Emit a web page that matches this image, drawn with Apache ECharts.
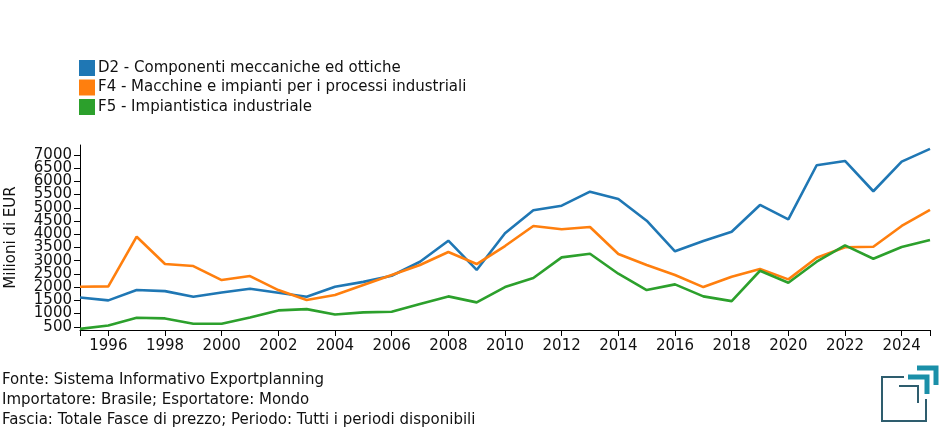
<!DOCTYPE html>
<html>
<head>
<meta charset="utf-8">
<script src="https://cdn.jsdelivr.net/npm/echarts@6/dist/echarts.min.js"></script>
<style>html,body{margin:0;padding:0;background:#fff}#c{width:950px;height:435px}</style>
</head>
<body>
<div id="c"></div>
<script>
const years = ['1995','1996','1997','1998','1999','2000','2001','2002','2003','2004','2005','2006','2007','2008','2009','2010','2011','2012','2013','2014','2015','2016','2017','2018','2019','2020','2021','2022','2023','2024','2025'];
const seriesNames = ['D2 - Componenti meccaniche ed ottiche','F4 - Macchine e impianti per i processi industriali','F5 - Impiantistica industriale'];
const d2 = [1610,1500,1890,1850,1635,1800,1940,1790,1636,2014,2200,2430,2960,3756,2650,4036,4907,5081,5611,5335,4513,3355,3745,4097,5108,4566,6610,6773,5626,6747,7228];
const f4 = [2014,2030,3907,2874,2798,2268,2420,1889,1511,1700,2079,2457,2836,3328,2874,3555,4313,4187,4275,3252,2836,2457,2003,2393,2684,2294,3112,3506,3529,4313,4918];
const f5 = [424,550,841,818,614,614,856,1121,1170,969,1045,1068,1359,1651,1424,2003,2344,3127,3264,2507,1889,2105,1651,1473,2620,2166,2961,3582,3074,3517,3782];
const yTicks = [500,1000,1500,2000,2500,3000,3500,4000,4500,5000,5500,6000,6500,7000];
const footer = ['Fonte: Sistema Informativo Exportplanning','Importatore: Brasile; Esportatore: Mondo','Fascia: Totale Fasce di prezzo; Periodo: Tutti i periodi disponibili'];
const colors = ['#1f77b4','#ff7f0e','#2ca02c'];
const yMin = 380, yMax = 7375;
const FONT = 'DejaVu Sans';

const chart = echarts.init(document.getElementById('c'), null, {renderer:'canvas'});
const lastIdx = years.length - 1;
const yEnds = [yMin].concat(yTicks, [yMax]);
chart.setOption({
  animation:false,
  color: colors,
  textStyle:{fontFamily:FONT},
  grid:{left:80, right:20, top:145, bottom:105, containLabel:false, outerBoundsMode:'none'},
  legend:{
    orient:'vertical', left:79, top:60, padding:0, itemWidth:16, itemHeight:16, itemGap:3.5,
    icon:'rect',
    textStyle:{fontFamily:FONT, fontSize:15, color:'#111', padding:[0,0,0,-2]},
    data: seriesNames
  },
  xAxis:{
    type:'category', data: years, boundaryGap:false,
    axisLine:{lineStyle:{color:'#000', width:1}},
    axisTick:{length:6, lineStyle:{color:'#000'},
      interval:function(i, v){ return (+v) % 2 === 0 || i === 0 || i === lastIdx; }},
    axisLabel:{fontFamily:FONT, fontSize:15, color:'#111', margin:9,
      interval:function(i, v){ return (+v) % 2 === 0; }},
    splitLine:{show:false}
  },
  yAxis:{
    type:'value', min:yMin, max:yMax,
    name:'Milioni di EUR', nameLocation:'middle', nameRotate:90, nameGap:61,
    nameTextStyle:{fontFamily:FONT, fontSize:15, color:'#111'},
    axisLine:{show:true, lineStyle:{color:'#000', width:1}},
    axisTick:{show:true, length:6, lineStyle:{color:'#000'}, customValues:yEnds},
    axisLabel:{fontFamily:FONT, fontSize:15, lineHeight:11, color:'#111', margin:8, customValues:yEnds,
      hideOverlap:false, showMinLabel:false, showMaxLabel:false,
      formatter:function(v){ return (v === yMin || v === yMax) ? '' : String(v); }},
    splitLine:{show:false}
  },
  series:[d2,f4,f5].map((d,i)=>({
    name: seriesNames[i], type:'line', data:d, showSymbol:false, symbol:'none',
    lineStyle:{width:2.6, color:colors[i]}, itemStyle:{color:colors[i]}
  })),
  graphic: footer.map((t,i)=>({
    type:'text', left:2, top:373 + i*19.7,
    style:{text:t, font:'15px "DejaVu Sans"', fill:'#111'}
  })).concat([
    {type:'polyline', shape:{points:[[904,377],[882,377],[882,421],[926,421],[926,399]]}, style:{stroke:'#2e5d6e', lineWidth:2, fill:null}},
    {type:'polyline', shape:{points:[[899,386],[918,386],[918,403]]}, style:{stroke:'#2e5d6e', lineWidth:2, fill:null}},
    {type:'polyline', shape:{points:[[908,377],[927,377],[927,394]]}, style:{stroke:'#1a8fa8', lineWidth:5, fill:null}},
    {type:'polyline', shape:{points:[[917,368],[936,368],[936,385]]}, style:{stroke:'#1a8fa8', lineWidth:5, fill:null}}
  ])
});
</script>
</body>
</html>
